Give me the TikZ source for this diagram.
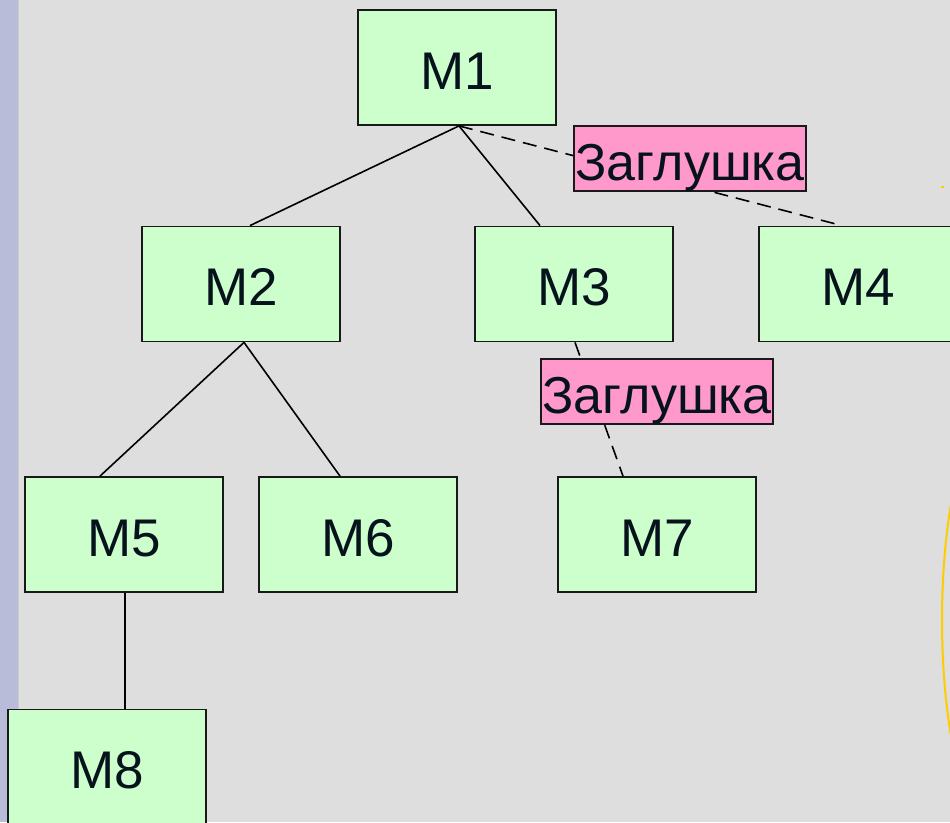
\documentclass[tikz,border=0pt]{standalone}
\usepackage{fontspec}
\setmainfont{Liberation Sans}
\definecolor{bg}{HTML}{DEDEDE}
\definecolor{strip}{HTML}{B8BCD8}
\definecolor{boxfill}{HTML}{CCFFCC}
\definecolor{stubfill}{HTML}{FF99CC}
\definecolor{ink}{HTML}{06121C}
\definecolor{arcyellow}{HTML}{FFCC00}
\begin{document}
\begin{tikzpicture}[x=1pt,y=-1pt,
  module/.style={draw=black!90, line width=1.8pt, fill=boxfill, minimum width=198pt, minimum height=115pt, inner sep=0pt, text=ink, text height=43pt, text depth=0pt, font=\fontsize{53}{60}\selectfont},
  stub/.style={draw=black!90, line width=1.4pt, fill=stubfill, minimum width=232pt, minimum height=65pt, inner sep=0pt, text=ink, text height=54pt, text depth=10pt, font=\fontsize{52}{58}\selectfont},
  link/.style={line width=1.6pt, black},
  stublink/.style={link, dash pattern=on 14pt off 8pt}]
\useasboundingbox (0,0) rectangle (950,822);
\clip (0,0) rectangle (950,822);
\fill[bg] (0,0) rectangle (950,822);
\fill[strip] (0,0) rectangle (18,822);
\draw[color=black!20, line width=1pt] (18.5,0) -- (18.5,822);
\draw[arcyellow, line width=2pt] (1002,620) ellipse [x radius=60, y radius=220];
\fill[arcyellow] (941,186) rectangle (944,188);
% modules
\node[module] (m1) at (457,67.5) {M1};
\node[module] (m2) at (241,284) {M2};
\node[module] (m3) at (574,284) {M3};
\node[module] (m4) at (858,284) {M4};
\node[module] (m5) at (124,534.5) {M5};
\node[module] (m6) at (358,534.5) {M6};
\node[module] (m7) at (657,534.5) {M7};
\node[module] (m8) at (107,767) {M8};
% connectors
\draw[link] ([xshift=2pt]m1.south) -- ([xshift=9pt]m2.north);
\draw[link] ([xshift=2pt]m1.south) -- ([xshift=-34pt]m3.north);
\draw[stublink] ([xshift=2pt]m1.south) -- ([xshift=-16pt]m4.north);
\draw[link] ([xshift=3pt]m2.south) -- ([xshift=-24pt]m5.north);
\draw[link] ([xshift=3pt]m2.south) -- ([xshift=-18pt]m6.north);
\draw[stublink] ([xshift=1pt]m3.south) -- ([xshift=-34pt]m7.north);
\draw[link] ([xshift=1pt]m5.south) -- ([xshift=1pt]m5.south |- m8.north);
% stubs
\node[stub] (s1) at (690,158.5) {Заглушка};
\node[stub] (s2) at (657,391.5) {Заглушка};
\end{tikzpicture}
\end{document}
